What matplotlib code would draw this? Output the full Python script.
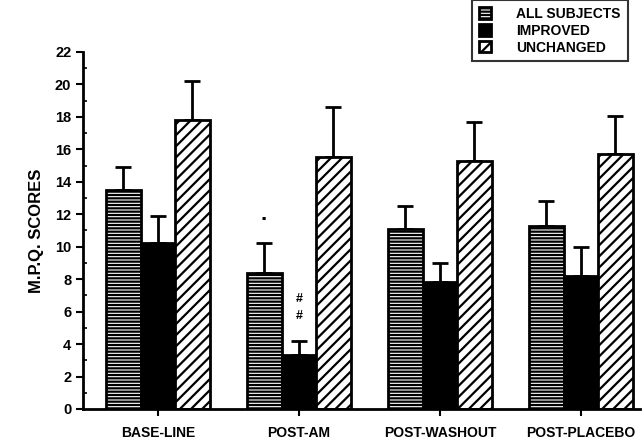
import matplotlib
matplotlib.use("Agg")
import matplotlib.pyplot as plt
import numpy as np
from matplotlib.ticker import MultipleLocator

plt.rcParams['font.family'] = ['Liberation Sans', 'DejaVu Sans']
plt.rcParams['font.weight'] = 'bold'
plt.rcParams['hatch.linewidth'] = 1.6

groups = ["BASE-LINE", "POST-AM", "POST-WASHOUT", "POST-PLACEBO"]
all_subjects = [13.5, 8.4, 11.1, 11.3]
all_err = [1.4, 1.85, 1.4, 1.5]
improved = [10.25, 3.3, 7.8, 8.2]
improved_err = [1.65, 0.9, 1.2, 1.8]
unchanged = [17.8, 15.5, 15.3, 15.7]
unchanged_err = [2.4, 3.1, 2.4, 2.35]

fig = plt.figure(figsize=(6.44, 4.42), dpi=100)
ax = fig.add_axes([0.129, 0.0747, 0.865, 0.8077])

x = np.arange(len(groups))
w = 0.245
series = [
    (all_subjects, all_err, "ALL SUBJECTS", "white", "-----"),
    (improved, improved_err, "IMPROVED", "black", None),
    (unchanged, unchanged_err, "UNCHANGED", "white", "///"),
]
for i, (vals, errs, lab, fc, hatch) in enumerate(series):
    pos = x + (i - 1) * w
    ax.bar(pos, vals, w, color=fc, edgecolor="black", linewidth=2,
           hatch=hatch, label=lab, zorder=2)
    ax.errorbar(pos, vals, yerr=[np.zeros(len(vals)), errs], fmt="none",
                ecolor="black", elinewidth=2, capsize=6, capthick=2, zorder=1)

# marques de significancia em POST-AM
ax.text(x[1] - w, 11.6, "·", ha="center", va="center", fontsize=16)
ax.text(x[1], 6.8, "#", ha="center", va="center", fontsize=9)
ax.text(x[1], 5.7, "#", ha="center", va="center", fontsize=9)

ax.set_xlim(-0.53, 3.42)
ax.set_ylim(0, 22)
ax.set_xticks(x)
ax.set_xticklabels(groups, fontsize=10, fontweight="bold")
ax.yaxis.set_major_locator(MultipleLocator(2))
ax.yaxis.set_minor_locator(MultipleLocator(1))
ax.tick_params(axis="y", which="major", direction="out", length=5, width=1.5,
               labelsize=10.5)
ax.tick_params(axis="y", which="minor", direction="in", length=3, width=1.2)
ax.tick_params(axis="x", direction="out", length=5, width=1.5, pad=7)
for t in ax.get_yticklabels():
    t.set_fontweight("bold")
ax.spines["top"].set_visible(False)
ax.spines["right"].set_visible(False)
ax.spines["left"].set_linewidth(2)
ax.spines["bottom"].set_linewidth(2)
ax.set_ylabel("M.P.Q. SCORES", fontsize=12, fontweight="bold", labelpad=8)

leg = ax.legend(loc="upper right", bbox_to_anchor=(0.99, 1.165), frameon=True,
                fancybox=False, edgecolor="black", fontsize=10,
                handlelength=0.9, handleheight=0.9, labelspacing=0.2,
                handletextpad=1.8, borderpad=0.5)
leg.get_frame().set_linewidth(1.5)
for t in leg.get_texts():
    t.set_fontweight("bold")

plt.savefig("out.png", dpi=100)
